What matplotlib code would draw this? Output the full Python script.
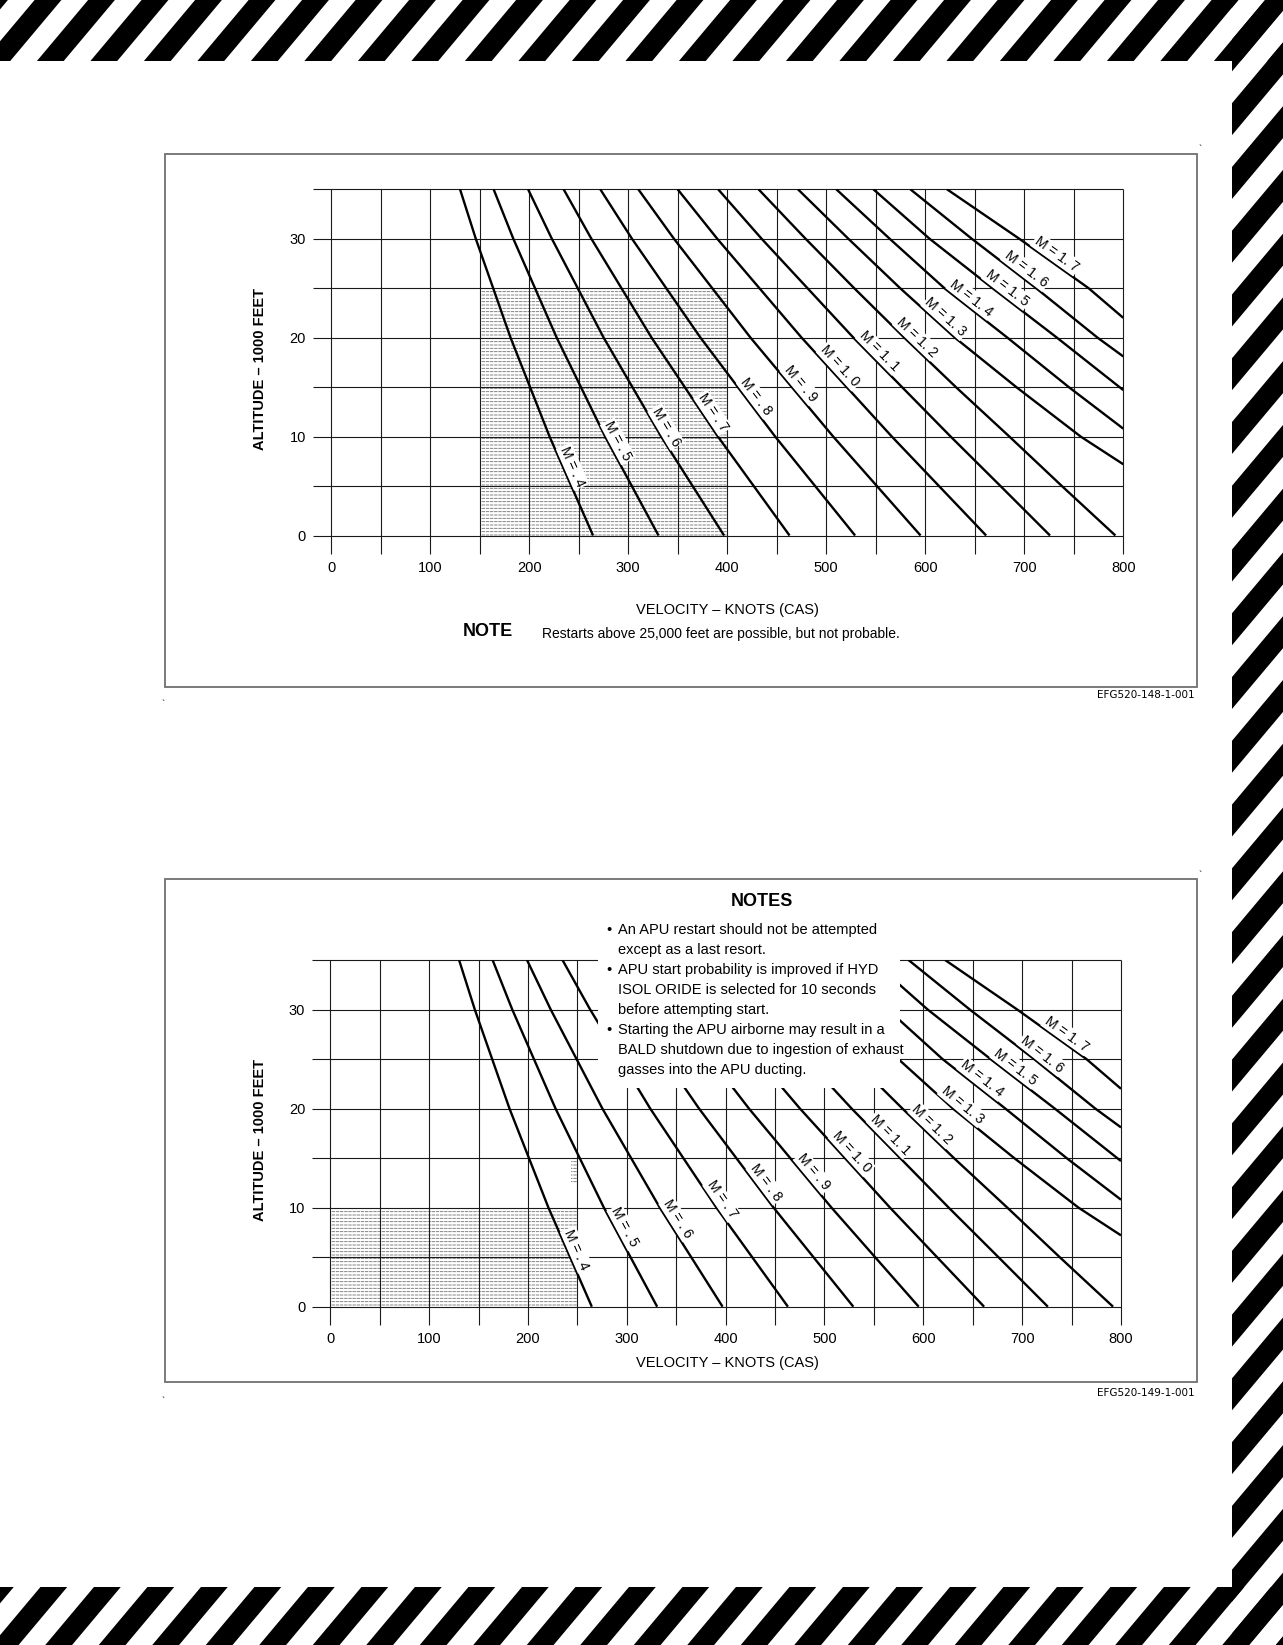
import numpy as np
import matplotlib.pyplot as plt
from matplotlib.patches import Rectangle
from matplotlib.collections import PolyCollection
from matplotlib import font_manager

W, H = 1283, 1645

# Schrift: schmale Sans wie im Original
_names = {f.name for f in font_manager.fontManager.ttflist}
NARROW = 'Liberation Sans Narrow' if 'Liberation Sans Narrow' in _names else 'Liberation Sans'
plt.rcParams['font.family'] = [NARROW, 'DejaVu Sans']
plt.rcParams['hatch.linewidth'] = 0.6

# ---- Daten: CAS in Knoten, Hoehe in 1000 ft ----
speed_ticks = [0, 100, 200, 300, 400, 500, 600, 700, 800]
alt_ticks = [0, 10, 20, 30]

alt_sub = [0, 10, 20, 30, 35]
cas_m04 = [264.6, 220.7, 181.3, 146.2, 130.3]
cas_m05 = [330.7, 276.8, 227.9, 184.1, 164.2]
cas_m06 = [396.9, 333.4, 275.3, 223.0, 199.0]
cas_m07 = [463.0, 390.7, 323.7, 262.9, 234.9]
cas_m08 = [529.2, 448.5, 373.1, 303.9, 271.9]
cas_m09 = [595.3, 507.1, 423.6, 346.3, 310.3]
cas_m10 = [661.5, 566.3, 475.2, 390.0, 350.0]

alt_m11 = [0, 5, 10, 20, 30, 35]
cas_m11 = [726, 676, 625.7, 527.5, 434.8, 390.9]
alt_m12 = [0, 5, 10, 15, 20, 25, 30, 35]
cas_m12 = [792, 738, 685, 631, 578.9, 528.3, 479.2, 431.7]
alt_m13 = [7.2, 10, 15, 20, 25, 30, 35]
cas_m13 = [800, 757, 692, 630, 574.7, 522.4, 471.5]
alt_m14 = [10.8, 15, 20, 25, 30, 35]
cas_m14 = [800, 745, 683, 619.4, 564.1, 510.2]
alt_m15 = [14.7, 20, 25, 30, 35]
cas_m15 = [800, 733, 668, 604.4, 547.7]
alt_m16 = [18.1, 20, 25, 30, 35]
cas_m16 = [800, 774, 712, 647, 585]
alt_m17 = [22.0, 25, 30, 35]
cas_m17 = [800, 765, 695, 622]

mach_text = ['M = . 4', 'M = . 5', 'M = . 6', 'M = . 7', 'M = . 8', 'M = . 9', 'M = 1. 0',
             'M = 1. 1', 'M = 1. 2', 'M = 1. 3', 'M = 1. 4', 'M = 1. 5', 'M = 1. 6', 'M = 1. 7']
mach_lines = [(cas_m04, alt_sub), (cas_m05, alt_sub), (cas_m06, alt_sub), (cas_m07, alt_sub),
              (cas_m08, alt_sub), (cas_m09, alt_sub), (cas_m10, alt_sub), (cas_m11, alt_m11),
              (cas_m12, alt_m12), (cas_m13, alt_m13), (cas_m14, alt_m14), (cas_m15, alt_m15),
              (cas_m16, alt_m16), (cas_m17, alt_m17)]

# Beschriftungshoehen der Machlinien
label_alt_1 = [6.6, 9.1, 10.5, 11.9, 13.5, 14.8, 16.5, 18.0, 19.4, 21.4, 23.3, 24.3, 26.2, 27.7]
label_alt_2 = [5.4, 7.6, 8.4, 10.3, 12.0, 13.0, 15.0, 16.7, 17.7, 19.7, 22.3, 23.5, 24.8, 26.8]

# schraffierte Bereiche (x0, x1, h0, h1)
shade_1 = [(150, 400, 0, 25)]
shade_2 = [(0, 250, 0, 10), (244, 250, 12.5, 15)]

notes_lines = [
    ('\u2022', 'An APU restart should not be attempted'),
    ('', 'except as a last resort.'),
    ('\u2022', 'APU start probability is improved if HYD'),
    ('', 'ISOL ORIDE is selected for 10 seconds'),
    ('', 'before attempting start.'),
    ('\u2022', 'Starting the APU airborne may result in a'),
    ('', 'BALD shutdown due to ingestion of exhaust'),
    ('', 'gasses into the APU ducting.'),
]


def fig_rect(l, t, r, b):
    return [l / W, 1 - b / H, (r - l) / W, (b - t) / H]


def mach_label(ax, cas, alt, text, h_lab, offset_px=9):
    a = np.asarray(alt, float)
    v = np.asarray(cas, float)
    o = np.argsort(a)
    a, v = a[o], v[o]
    v0 = np.interp(h_lab, a, v)
    p1 = ax.transData.transform((np.interp(h_lab + 1, a, v), h_lab + 1))
    p2 = ax.transData.transform((np.interp(h_lab - 1, a, v), h_lab - 1))
    d = (p2 - p1) / np.hypot(*(p2 - p1))
    ang = np.degrees(np.arctan2(d[1], d[0]))
    n = np.array([-d[1], d[0]])
    c = ax.transData.transform((v0, h_lab)) + offset_px * n
    xd, yd = ax.transData.inverted().transform(c)
    ax.text(xd, yd, text, rotation=ang, rotation_mode='anchor', ha='center', va='center',
            fontsize=10, zorder=4,
            bbox=dict(boxstyle='square,pad=0.1', fc='white', ec='none'))


def draw_chart(ax, shades, label_alts):
    ax.set_xlim(0, 800)
    ax.set_ylim(0, 35)
    ax.patch.set_visible(False)
    for s in ax.spines.values():
        s.set_visible(False)
    ax.set_xticks(speed_ticks)
    ax.set_yticks(alt_ticks)
    ax.tick_params(length=0, pad=18, labelsize=10.5)

    for v in np.arange(0, 801, 50):
        ax.plot([v, v], [-1.82, 35], color='#1a1a1a', lw=0.8, clip_on=False, zorder=2,
                solid_capstyle='butt')
    for h in np.arange(0, 36, 5):
        ax.plot([-18.2, 800], [h, h], color='#1a1a1a', lw=0.8, clip_on=False, zorder=2,
                solid_capstyle='butt')

    for x0, x1, h0, h1 in shades:
        # waagrechte Linien, durch weisse Senkrechte zu Strichen aufgebrochen
        ax.add_patch(Rectangle((x0, h0), x1 - x0, h1 - h0, facecolor='none',
                               edgecolor='#6e6e6e', hatch='-----', lw=0, zorder=1))
        ax.add_patch(Rectangle((x0, h0), x1 - x0, h1 - h0, facecolor='none',
                               edgecolor='white', hatch='||||', lw=0, zorder=1.1))

    for (cas, alt), txt, hl in zip(mach_lines, mach_text, label_alts):
        ax.plot(cas, alt, color='k', lw=1.7, zorder=3, solid_capstyle='butt')
        mach_label(ax, cas, alt, txt, hl)


fig = plt.figure(figsize=(W / 100, H / 100), dpi=100)

# Hintergrund: Warnstreifen und Rahmen
bg = fig.add_axes([0, 0, 1, 1])
bg.set_xlim(0, W)
bg.set_ylim(H, 0)
bg.axis('off')
bg.set_zorder(0)

cot = 1 / np.tan(np.radians(50))
period, bw, phase = 53.5, 26.8, 34.6
polys = []
for k in range(-2, 52):
    u = phase + k * period
    polys.append([(u + cot * 5, -5), (u + bw + cot * 5, -5),
                  (u + bw - cot * 1650, 1650), (u - cot * 1650, 1650)])
for (bx, by, bwid, bh) in [(0, 0, W, 61), (0, 1587, W, H - 1587), (1232, 0, W - 1232, H)]:
    pc = PolyCollection(polys, facecolors='k', edgecolors='none')
    bg.add_collection(pc)
    pc.set_clip_path(Rectangle((bx, by), bwid, bh, transform=bg.transData))

bg.add_patch(Rectangle((164.5, 153.5), 1032.2, 533.2, fill=False, ec='#707070', lw=1.3))
bg.add_patch(Rectangle((164.7, 879), 1032, 502.7, fill=False, ec='#707070', lw=1.3))

# Diagramme
ax1 = fig.add_axes(fig_rect(331, 189.3, 1123.3, 535.5))
ax1.set_zorder(1)
draw_chart(ax1, shade_1, label_alt_1)

ax2 = fig.add_axes(fig_rect(330.3, 960, 1121, 1306.7))
ax2.set_zorder(1)
draw_chart(ax2, shade_2, label_alt_2)

# Texte und Notizkasten
top = fig.add_axes([0, 0, 1, 1])
top.set_xlim(0, W)
top.set_ylim(H, 0)
top.axis('off')
top.set_zorder(5)

for yc in (369, 1140):
    top.text(260, yc, 'ALTITUDE \u2013 1000 FEET', rotation=90, ha='center', va='center',
             fontsize=10.5, fontweight='bold')
for yc in (610, 1363):
    top.text(727, yc, 'VELOCITY \u2013 KNOTS (CAS)', ha='center', va='center', fontsize=10.5)

top.text(488, 631, 'NOTE', ha='center', va='center', fontsize=13, fontweight='bold')
top.text(541.7, 634, 'Restarts above 25,000 feet are possible, but not probable.',
         ha='left', va='center', fontsize=10)

for yc, code in ((695, 'EFG520-148-1-001'), (1393, 'EFG520-149-1-001')):
    top.text(1195, yc, code, ha='right', va='center', fontsize=7.5, family='DejaVu Sans')

for bx, by in ((1200, 150), (163, 705), (1200, 876), (163, 1402)):
    top.text(bx, by, '`', ha='center', va='center', fontsize=7)

top.add_patch(Rectangle((598, 881), 302, 207, fc='white', ec='none'))
top.text(761.7, 901.7, 'NOTES', ha='center', va='center', fontsize=13, fontweight='bold')
for i, (bullet, line) in enumerate(notes_lines):
    yc = 930 + 20 * i
    if bullet:
        top.text(609, yc, bullet, ha='center', va='center', fontsize=10.5)
    top.text(618, yc, line, ha='left', va='center', fontsize=10.5)

fig.savefig('out.png', dpi=100)
